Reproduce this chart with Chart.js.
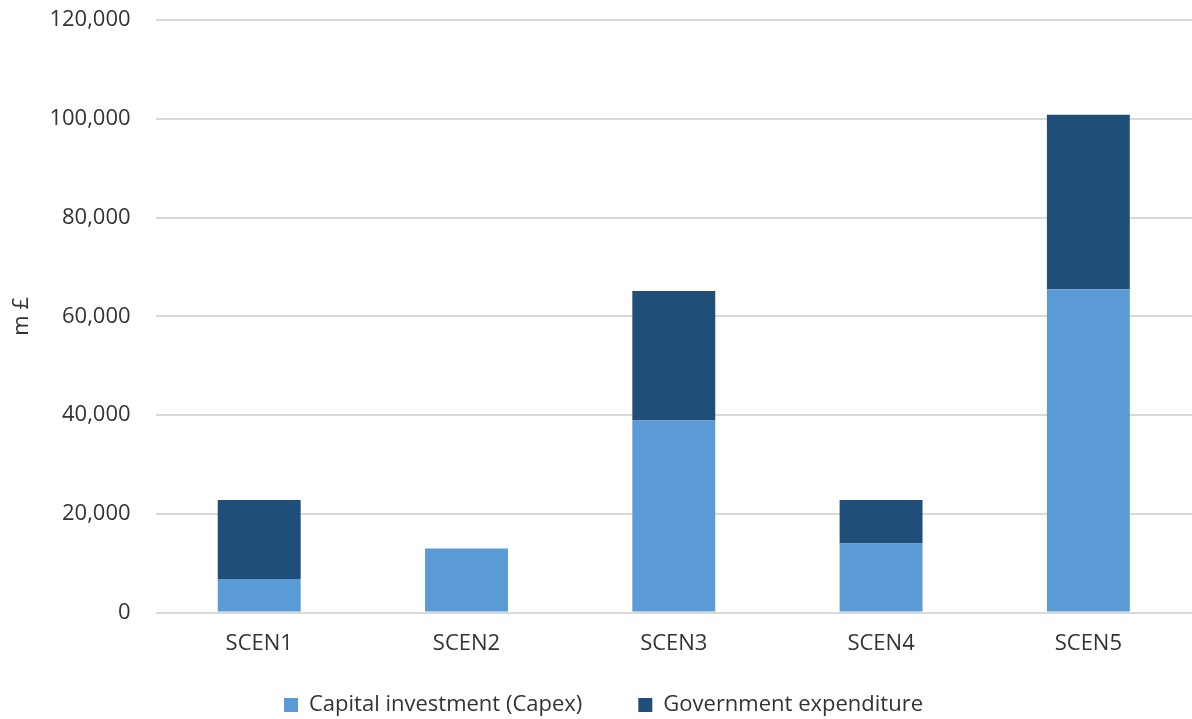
<!DOCTYPE html>
<html>
<head>
<meta charset="utf-8">
<script src="https://cdn.jsdelivr.net/npm/chart.js@4.4.1/dist/chart.umd.min.js"></script>
<style>
    html, body { margin: 0; padding: 0; background: #ffffff; }
    #wrap { width: 1192px; height: 719px; }
</style>
</head>
<body>
<div id="wrap"><canvas id="costChart"></canvas></div>
<script>
// Chart data
const scenarios = ['SCEN1', 'SCEN2', 'SCEN3', 'SCEN4', 'SCEN5'];
const capex = [6800, 13000, 38900, 14000, 65500];
const govExpenditure = [16000, 0, 26200, 8800, 35300];
const seriesNames = ['Capital investment (Capex)', 'Government expenditure'];
const yAxisTitle = 'm £';

const textColor = '#333333';
const gridColor = '#d9d9d9';
const fontFamily = "'Open Sans', 'DejaVu Sans', sans-serif";
const fontSize = 22;

// Legend needs wide gaps between items but sits close under the axis labels,
// so pull it up a bit after layout
const legendShift = {
    id: 'legendShift',
    afterLayout(chart) {
        if (chart.legend) {
            chart.legend.top -= 29;
            chart.legend.bottom -= 29;
        }
    }
};

const ctx = document.getElementById('costChart');

new Chart(ctx, {
    type: 'bar',
    data: {
        labels: scenarios,
        datasets: [
            {
                label: seriesNames[0],
                data: capex,
                backgroundColor: '#5b9bd5',
                borderWidth: 0,
                barPercentage: 1,
                categoryPercentage: 0.4
            },
            {
                label: seriesNames[1],
                data: govExpenditure,
                backgroundColor: '#1f4e79',
                borderWidth: 0,
                barPercentage: 1,
                categoryPercentage: 0.4
            }
        ]
    },
    options: {
        responsive: true,
        maintainAspectRatio: false,
        animation: false,
        layout: {
            padding: { top: 20, right: -10, bottom: -36, left: 5 }
        },
        plugins: {
            legend: {
                display: true,
                position: 'bottom',
                labels: {
                    color: textColor,
                    boxWidth: 14,
                    boxHeight: 14,
                    padding: 56,
                    font: { family: fontFamily, size: fontSize }
                }
            },
            tooltip: { enabled: false }
        },
        scales: {
            x: {
                stacked: true,
                grid: { display: false },
                border: { display: false },
                ticks: {
                    color: textColor,
                    padding: 10,
                    font: { family: fontFamily, size: fontSize }
                }
            },
            y: {
                stacked: true,
                min: 0,
                max: 120000,
                grid: {
                    color: gridColor,
                    lineWidth: 2,
                    drawTicks: true,
                    tickLength: 25,
                    tickColor: 'rgba(0,0,0,0)'
                },
                border: { display: false },
                title: {
                    display: true,
                    text: yAxisTitle,
                    color: textColor,
                    padding: { top: 4, bottom: 14 },
                    font: { family: fontFamily, size: fontSize }
                },
                ticks: {
                    stepSize: 20000,
                    color: textColor,
                    padding: 0,
                    font: { family: fontFamily, size: fontSize },
                    callback: function(value) {
                        return value.toLocaleString('en-US');
                    }
                }
            }
        }
    },
    plugins: [legendShift]
});
</script>
</body>
</html>
